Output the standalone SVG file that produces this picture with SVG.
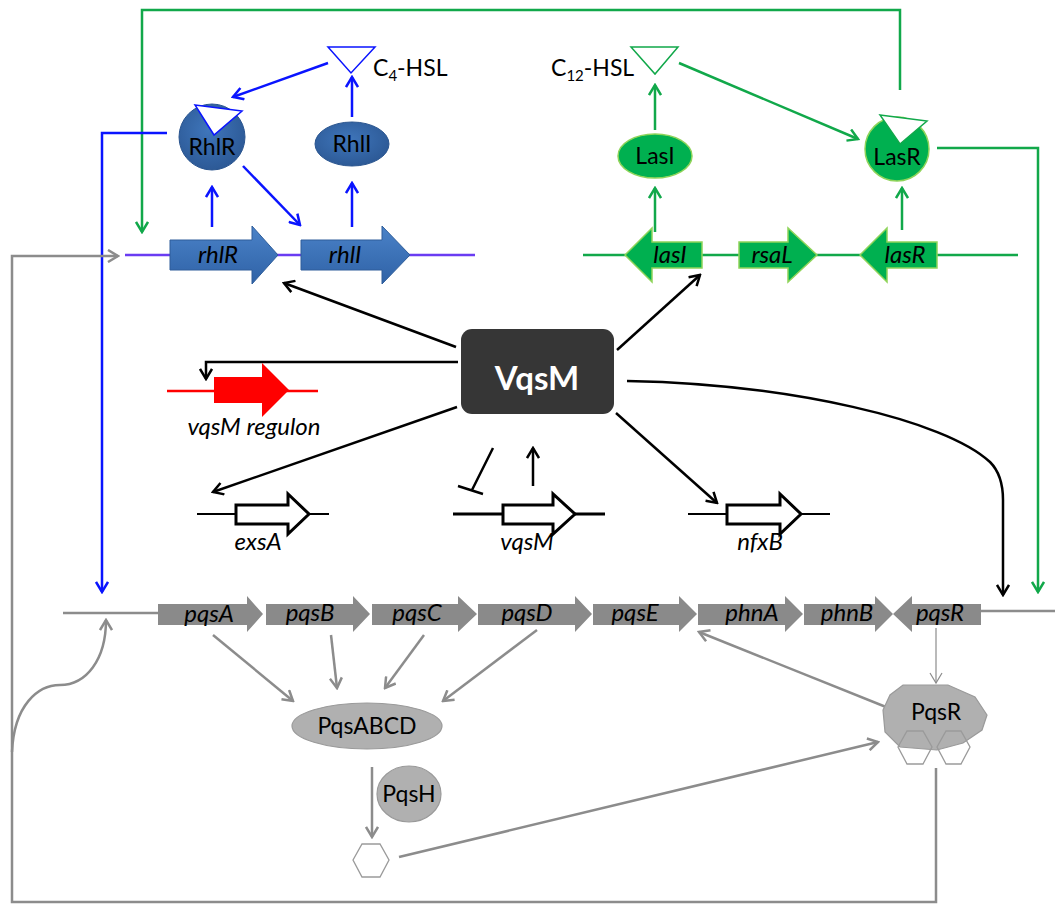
<svg xmlns="http://www.w3.org/2000/svg" width="1055" height="904" viewBox="0 0 1055 904">
<style>
.t{font-family:Lato,"Open Sans","Liberation Sans",sans-serif;font-size:23px;fill:#000}
.g{font-style:italic;text-anchor:middle;font-size:24px}
.c{text-anchor:middle}
.bl{fill:none;stroke:#0a14ff;stroke-width:2.5}
.gr{fill:none;stroke:#11a84a;stroke-width:2.5}
.bk{fill:none;stroke:#000;stroke-width:2.5}
.gy{fill:none;stroke:#8c8c8c;stroke-width:2.5}
.bgene{fill:url(#bg);stroke:#2e5d9a;stroke-width:1}
.ggene{fill:#00b050;stroke:#8fd45a;stroke-width:1.5}
.pgene{fill:#8a8a8a}
.ogene{fill:#fff;stroke:#000;stroke-width:3}
.hex{fill:none;stroke:#9a9a9a;stroke-width:1.3}
</style>
<defs>
<linearGradient id="bg" x1="0" y1="0" x2="0" y2="1"><stop offset="0" stop-color="#4a82c8"/><stop offset="1" stop-color="#2f62a6"/></linearGradient>
<radialGradient id="bc" cx="0.45" cy="0.4" r="0.65"><stop offset="0" stop-color="#3f76bb"/><stop offset="1" stop-color="#2b5793"/></radialGradient>
<marker id="mb" viewBox="0 0 14 14" refX="12" refY="7" markerWidth="14" markerHeight="14" orient="auto" markerUnits="userSpaceOnUse"><path d="M2,1 L12,7 L2,13" fill="none" stroke="#0a14ff" stroke-width="2.5"/></marker>
<marker id="mg" viewBox="0 0 14 14" refX="12" refY="7" markerWidth="14" markerHeight="14" orient="auto" markerUnits="userSpaceOnUse"><path d="M2,1 L12,7 L2,13" fill="none" stroke="#11a84a" stroke-width="2.5"/></marker>
<marker id="mk" viewBox="0 0 14 14" refX="12" refY="7" markerWidth="14" markerHeight="14" orient="auto" markerUnits="userSpaceOnUse"><path d="M2,1 L12,7 L2,13" fill="none" stroke="#000" stroke-width="2.5"/></marker>
<marker id="my" viewBox="0 0 14 14" refX="12" refY="7" markerWidth="14" markerHeight="14" orient="auto" markerUnits="userSpaceOnUse"><path d="M2,1 L12,7 L2,13" fill="none" stroke="#8c8c8c" stroke-width="2.5"/></marker>
<marker id="myt" viewBox="0 0 14 14" refX="12" refY="7" markerWidth="14" markerHeight="14" orient="auto" markerUnits="userSpaceOnUse"><path d="M2,1 L12,7 L2,13" fill="none" stroke="#8c8c8c" stroke-width="1.2"/></marker>
</defs>
<rect width="1055" height="904" fill="#fff"/>

<g id="connectors">
<path class="gr" d="M900,90 V10 H142 V232" marker-end="url(#mg)"/>
<path class="gr" d="M937,148 H1038 V592" marker-end="url(#mg)"/>
<path class="gr" d="M679,63 L858,139" marker-end="url(#mg)"/>
<path class="gr" d="M655,130 V85" marker-end="url(#mg)"/>
<path class="gr" d="M655,232 V188" marker-end="url(#mg)"/>
<path class="gr" d="M902,230 V188" marker-end="url(#mg)"/>
<path class="bl" d="M328,63 L233,97" marker-end="url(#mb)"/>
<path class="bl" d="M167,133 H102 V592" marker-end="url(#mb)"/>
<path class="bl" d="M212,227 V187" marker-end="url(#mb)"/>
<path class="bl" d="M243,166 L300,225" marker-end="url(#mb)"/>
<path class="bl" d="M352,227 V183" marker-end="url(#mb)"/>
<path class="bl" d="M352,117 V77" marker-end="url(#mb)"/>
<path class="bk" d="M456,347 L284,283" marker-end="url(#mk)"/>
<path class="bk" d="M617,350 L700,275" marker-end="url(#mk)"/>
<path class="bk" d="M458,362 H206 V379" marker-end="url(#mk)"/>
<path class="bk" d="M457,407 L213,492" marker-end="url(#mk)"/>
<path class="bk" d="M616,413 L717,503" marker-end="url(#mk)"/>
<path class="bk" d="M533,486 V448" marker-end="url(#mk)"/>
<path class="bk" d="M493,448 L472,490 M458,486 L483,494"/>
<path class="bk" d="M627,381 C790,384 945,420 990,462 Q1003,475 1003,500 L1003,595" marker-end="url(#mk)"/>
<path class="gy" d="M936,768 V902 H12 V256 H118" marker-end="url(#my)"/>
<path class="gy" d="M12,752 C14,705 38,685 60,685 C86,685 106,660 106,620" marker-end="url(#my)"/>
<path class="gy" d="M213,635 L293,701" marker-end="url(#my)"/>
<path class="gy" d="M331,635 L337,688" marker-end="url(#my)"/>
<path class="gy" d="M424,635 L385,688" marker-end="url(#my)"/>
<path class="gy" d="M537,630 L443,701" marker-end="url(#my)"/>
<path class="gy" d="M372,767 V837" marker-end="url(#my)"/>
<path class="gy" d="M399,857 L878,742" marker-end="url(#my)"/>
<path class="gy" d="M886,707 L699,632" marker-end="url(#my)"/>
<path d="M936,628 V683" fill="none" stroke="#8c8c8c" stroke-width="1.2" marker-end="url(#myt)"/>
</g>

<g id="rhl-operon">
<line x1="125" y1="255" x2="475" y2="255" stroke="#6a3cf2" stroke-width="2.5"/>
<polygon class="bgene" points="170,240 252,240 252,226 278,255 252,284 252,270 170,270"/>
<polygon class="bgene" points="301,240 382,240 382,226 410,255 382,284 382,270 301,270"/>
<text class="t g" x="218" y="263">rhlR</text>
<text class="t g" x="345" y="263">rhlI</text>
</g>

<g id="RhlR">
<circle cx="212" cy="137" r="33" fill="url(#bc)" stroke="#2a558f" stroke-width="1"/>
<polygon points="195,105 242,111 214,135" fill="#fff" stroke="#0a14ff" stroke-width="1.5"/>
<text class="t c" x="212" y="155">RhlR</text>
</g>
<g id="RhlI">
<ellipse cx="352" cy="144" rx="37" ry="22" fill="url(#bc)" stroke="#2a558f" stroke-width="1"/>
<text class="t c" x="352" y="152">RhlI</text>
</g>
<g id="C4-HSL">
<polygon points="328,47 375,47 351,73" fill="#fff" stroke="#0a14ff" stroke-width="1.5"/>
<text class="t" x="373" y="76">C<tspan font-size="15" dy="5">4</tspan><tspan dy="-5">-HSL</tspan></text>
</g>

<g id="las-operon">
<line x1="583" y1="255" x2="1018" y2="255" stroke="#11a84a" stroke-width="2.5"/>
<polygon class="ggene" points="702,242 652,242 652,228 625,255 652,282 652,268 702,268"/>
<polygon class="ggene" points="739,242 788,242 788,228 817,255 788,282 788,268 739,268"/>
<polygon class="ggene" points="937,242 887,242 887,228 860,255 887,282 887,268 937,268"/>
<text class="t g" x="670" y="263">lasI</text>
<text class="t g" x="772" y="263">rsaL</text>
<text class="t g" x="905" y="263">lasR</text>
</g>
<g id="LasI">
<ellipse cx="655" cy="156" rx="37" ry="22" fill="#00b050" stroke="#8fd45a" stroke-width="1.5"/>
<text class="t c" x="655" y="164">LasI</text>
</g>
<g id="LasR">
<circle cx="897" cy="149" r="32" fill="#00b050" stroke="#8fd45a" stroke-width="1.5"/>
<polygon points="880,115 927,121 900,144" fill="#fff" stroke="#11a84a" stroke-width="1.5"/>
<text class="t c" x="897" y="165">LasR</text>
</g>
<g id="C12-HSL">
<polygon points="631,47 678,47 655,74" fill="#fff" stroke="#11a84a" stroke-width="1.5"/>
<text class="t" x="551" y="76">C<tspan font-size="15" dy="5">12</tspan><tspan dy="-5">-HSL</tspan></text>
</g>

<g id="VqsM">
<rect x="461" y="329" width="153" height="85" rx="11" fill="#363636"/>
<text class="t c" x="537" y="390" style="font-size:33px;font-weight:bold;fill:#fff">VqsM</text>
</g>

<g id="vqsM-regulon">
<line x1="167" y1="391" x2="318" y2="391" stroke="#ff0000" stroke-width="2.5"/>
<polygon points="214,377 262,377 262,363 289,390 262,417 262,403 214,403" fill="#ff0000"/>
<text class="t g" x="254" y="435">vqsM regulon</text>
</g>

<g id="exsA">
<line x1="197" y1="514" x2="329" y2="514" stroke="#000" stroke-width="2"/>
<polygon class="ogene" points="236,505 288,505 288,494 309,514 288,534 288,524 236,524"/>
<text class="t g" x="258" y="550">exsA</text>
</g>
<g id="vqsM-gene">
<line x1="453" y1="514" x2="605" y2="514" stroke="#000" stroke-width="3"/>
<polygon class="ogene" points="503,505 553,505 553,494 575,514 553,534 553,524 503,524"/>
<text class="t g" x="527" y="550">vqsM</text>
</g>
<g id="nfxB">
<line x1="688" y1="514" x2="830" y2="514" stroke="#000" stroke-width="2"/>
<polygon class="ogene" points="727,505 780,505 780,494 801,514 780,534 780,524 727,524"/>
<text class="t g" x="760" y="550">nfxB</text>
</g>

<g id="pqs-operon">
<line x1="63" y1="613" x2="160" y2="613" stroke="#8c8c8c" stroke-width="2.5"/>
<line x1="980" y1="611" x2="1055" y2="611" stroke="#8c8c8c" stroke-width="2.5"/>
<polygon class="pgene" points="158,604 247,604 247,596 263,614 247,632 247,625 158,625"/>
<polygon class="pgene" points="266,604 353,604 353,596 370,614 353,632 353,625 266,625"/>
<polygon class="pgene" points="372,604 458,604 458,596 477,614 458,632 458,625 372,625"/>
<polygon class="pgene" points="478,604 575,604 575,596 592,614 575,632 575,625 478,625"/>
<polygon class="pgene" points="593,604 679,604 679,596 697,614 679,632 679,625 593,625"/>
<polygon class="pgene" points="698,604 785,604 785,596 803,614 785,632 785,625 698,625"/>
<polygon class="pgene" points="804,604 875,604 875,596 893,614 875,632 875,625 804,625"/>
<polygon class="pgene" points="981,604 912,604 912,596 893,614 912,632 912,625 981,625"/>
<text class="t g" x="209" y="622">pqsA</text>
<text class="t g" x="310" y="621">pqsB</text>
<text class="t g" x="417" y="621">pqsC</text>
<text class="t g" x="527" y="621">pqsD</text>
<text class="t g" x="635" y="621">pqsE</text>
<text class="t g" x="752" y="621">phnA</text>
<text class="t g" x="847" y="621">phnB</text>
<text class="t g" x="940" y="621">pqsR</text>
</g>

<g id="PqsABCD">
<ellipse cx="367" cy="726" rx="75" ry="23" fill="#b0b0b0" stroke="#9a9a9a" stroke-width="1.2"/>
<text class="t c" x="367" y="734">PqsABCD</text>
</g>
<g id="PqsH">
<ellipse cx="409" cy="794" rx="32" ry="28" fill="#b0b0b0" stroke="#9a9a9a" stroke-width="1.2"/>
<text class="t c" x="409" y="802">PqsH</text>
</g>
<g id="PQS">
<polygon class="hex" points="353,860 362,844 380,844 389,860 380,877 362,877" style="fill:#fff"/>
</g>
<g id="PqsR">
<polygon points="903,685 948,685 975,697 987,715 982,730 963,743 937,750 900,747 885,732 883,710 890,695" fill="#b0b0b0" stroke="#9a9a9a" stroke-width="1.2"/>
<polygon class="hex" points="898,747 907,731 923,731 932,747 923,764 907,764"/>
<polygon class="hex" points="937,747 946,731 961,731 970,747 961,764 946,764"/>
<text class="t c" x="936" y="720">PqsR</text>
</g>
</svg>
